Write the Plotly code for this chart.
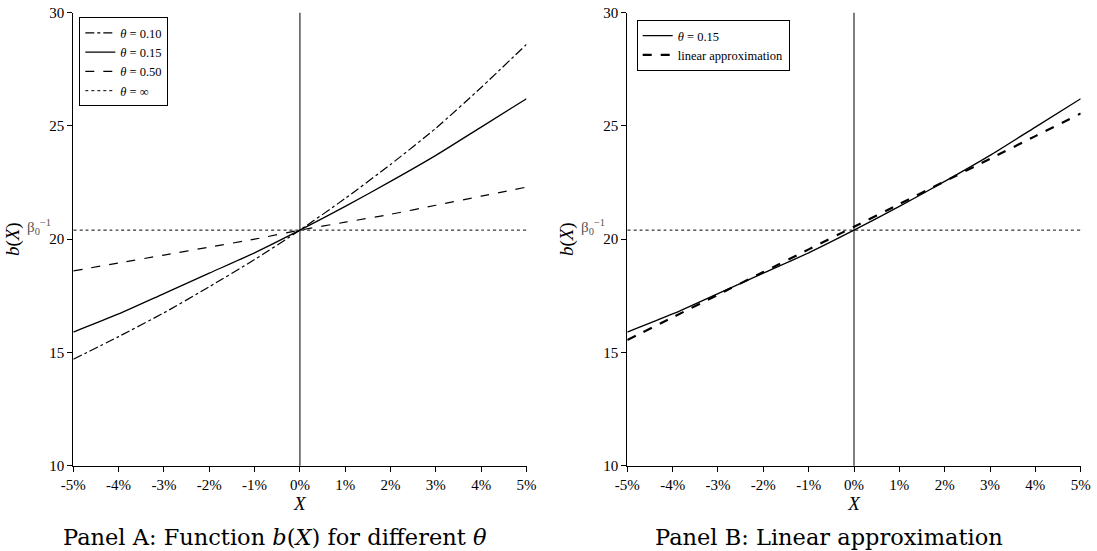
import plotly.graph_objects as go

# ---- data ----
x_pct = [-5, -4, -3, -2, -1, 0, 1, 2, 3, 4, 5]
b_theta_010 = [14.7, 15.7, 16.75, 17.9, 19.1, 20.4, 21.8, 23.3, 24.9, 26.7, 28.6]
b_theta_015 = [15.9, 16.7, 17.6, 18.5, 19.4, 20.4, 21.45, 22.55, 23.7, 24.95, 26.2]
b_theta_050 = [18.6, 18.95, 19.3, 19.65, 20.0, 20.4, 20.75, 21.1, 21.5, 21.9, 22.3]
b_theta_inf = [20.4] * 11
b_linear = [15.55, 16.55, 17.55, 18.55, 19.55, 20.55, 21.55, 22.55, 23.55, 24.55, 25.55]
beta0_inv = 20.4

x_tickvals = [-5, -4, -3, -2, -1, 0, 1, 2, 3, 4, 5]
x_ticktext = ["-5%", "-4%", "-3%", "-2%", "-1%", "0%", "1%", "2%", "3%", "4%", "5%"]
y_tickvals = [10, 15, 20, 25, 30]

FONT = "Liberation Serif"
TFONT = "DejaVu Serif"
fig = go.Figure()

def line(x, y, dash, width, name, xa, ya, legend, showlegend=True):
    fig.add_trace(go.Scatter(
        x=x, y=y, mode="lines", name=name, xaxis=xa, yaxis=ya,
        line=dict(color="black", dash=dash, width=width, shape="spline", smoothing=0.6),
        legend=legend, showlegend=showlegend, hoverinfo="skip"))

# Panel A
line(x_pct, b_theta_010, "dashdot", 1.2, "<i>θ</i> = 0.10", "x", "y", "legend")
line(x_pct, b_theta_015, "solid", 1.3, "<i>θ</i> = 0.15", "x", "y", "legend")
line(x_pct, b_theta_050, "dash", 1.2, "<i>θ</i> = 0.50", "x", "y", "legend")
line(x_pct, b_theta_inf, "dot", 1.0, "<i>θ</i> = ∞", "x", "y", "legend")

# Panel B
line(x_pct, b_theta_015, "solid", 1.3, "<i>θ</i> = 0.15", "x2", "y2", "legend2")
line(x_pct, b_linear, "dash", 2.2, "linear approximation", "x2", "y2", "legend2")
line(x_pct, b_theta_inf, "dot", 1.0, "", "x2", "y2", "legend2", showlegend=False)

W, H = 1097, 551


def px(v):
    return v / W


def py(v):
    return 1 - v / H


ydom = [py(465.7), py(12.7)]
axis_common = dict(showgrid=False, zeroline=False, showline=True, linecolor="black",
                   linewidth=1.2, ticks="outside", ticklen=5, tickcolor="black", automargin=False,
                   tickfont=dict(family=FONT, size=15, color="black"))

fig.update_layout(
    width=W, height=H, margin=dict(l=0, r=0, t=0, b=0, autoexpand=False),
    paper_bgcolor="white", plot_bgcolor="white",
    font=dict(family=FONT, color="black"),
    xaxis=dict(domain=[px(73.3), px(526.5)], range=[-5, 5], tickvals=x_tickvals, ticktext=x_ticktext,
               anchor="y", title=dict(text="<i>X</i>", font=dict(size=19, family=FONT), standoff=4),
               **axis_common),
    yaxis=dict(domain=ydom, range=[10, 30], tickvals=y_tickvals, anchor="x",
               title=dict(text="<i>b</i>(<i>X</i>)", font=dict(size=19, family=FONT), standoff=24),
               **axis_common),
    xaxis2=dict(domain=[px(627.3), px(1080.7)], range=[-5, 5], tickvals=x_tickvals, ticktext=x_ticktext,
                anchor="y2", title=dict(text="<i>X</i>", font=dict(size=19, family=FONT), standoff=4),
                **axis_common),
    yaxis2=dict(domain=ydom, range=[10, 30], tickvals=y_tickvals, anchor="x2",
                title=dict(text="<i>b</i>(<i>X</i>)", font=dict(size=19, family=FONT), standoff=24),
                **axis_common),
    legend=dict(x=px(79.3), y=py(17.3), xanchor="left", yanchor="top", bgcolor="white",
                bordercolor="black", borderwidth=1, font=dict(family=FONT, size=12.5),
                tracegroupgap=0, itemwidth=30),
    legend2=dict(x=px(636.7), y=py(20), xanchor="left", yanchor="top", bgcolor="white",
                 bordercolor="black", borderwidth=1, font=dict(family=FONT, size=12.5),
                 tracegroupgap=0, itemwidth=30),
)

for xa, ya in (("x", "y"), ("x2", "y2")):
    fig.add_shape(type="line", xref=xa, yref=f"{ya} domain", x0=0, x1=0, y0=0, y1=1,
                  line=dict(color="#555555", width=1.5), layer="below")
    fig.add_annotation(xref=f"{xa} domain", yref=ya, x=0, y=beta0_inv, xanchor="right",
                       yanchor="middle", xshift=-20, yshift=3, showarrow=False,
                       text="β<sub>0</sub><sup>−1</sup>",
                       font=dict(family=FONT, size=15, color="#555555"))

fig.add_annotation(xref="paper", yref="paper", x=px(275), y=py(537), xanchor="center",
                   yanchor="middle", showarrow=False,
                   text="Panel A: Function <i>b</i>(<i>X</i>) for different <i>θ</i>",
                   font=dict(family=TFONT, size=22.5, color="black"))
fig.add_annotation(xref="paper", yref="paper", x=px(829), y=py(537), xanchor="center",
                   yanchor="middle", showarrow=False,
                   text="Panel B: Linear approximation",
                   font=dict(family=TFONT, size=22.5, color="black"))

fig.write_html("out.html", config={"displayModeBar": False},
               post_script="document.body.style.margin='0px';")
